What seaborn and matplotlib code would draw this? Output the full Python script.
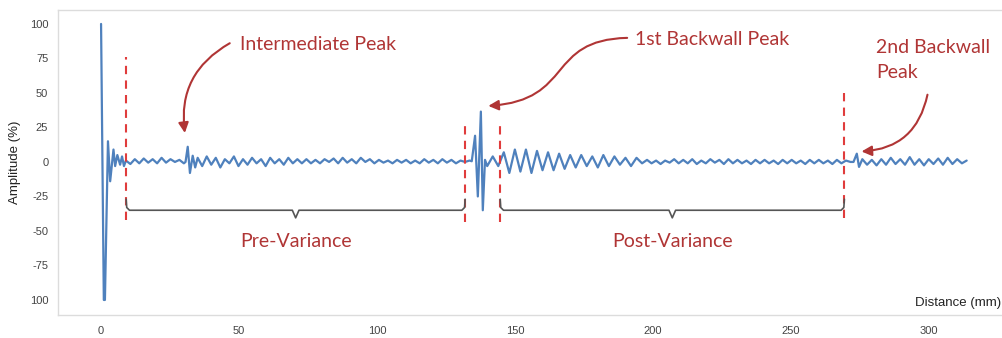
import numpy as np
import pandas as pd
import seaborn as sns
import matplotlib.pyplot as plt
from matplotlib.patches import FancyArrowPatch
from matplotlib.path import Path

# initial pulse (explicit positions)
dist_pulse = [0, 1.0, 1.4, 2.5, 3.3, 4.5, 5.1, 5.9, 6.9, 7.6, 8.3]
amp_pulse = [100, -100, -100, 15, -14, 9, -3, 5, -2, 4, -3]

# noise before intermediate peak (9 -> 30 mm)
amp_noise1 = [1, -1.5, 2, -1, 2.5, -0.5, 2, -1, 3, -0.5, 2, 0, 1.5, -1]

# intermediate peak
dist_mid = [30.6, 31.4, 32.2, 33.2, 34.1]
amp_mid = [0, 11, -8, 4.5, -4]

# noise up to 1st backwall (35 -> 133.5 mm)
amp_noise2 = [3, -3, 4, -2, 3, -4, 2, -1, 4, -3, 2, -2, 3, -1, 2, -3, 3, -1, 2, -2, 3, -1, 2,
              -1, 2, -1, 1.5, -1, 2, 0, 2.5, -1, 3, -0.5, 2, -1, 3, 0, 2, -1, 1.5, -0.5, 1,
              -1, 1.5, -0.5, 1.5, -1, 1, -1, 2, -0.5, 1.5, -1, 2, -0.5, 1.5, -1, 1, 0, 1]

# 1st backwall peak
dist_bw1 = [134.3, 135.5, 136.5, 137.6, 138.3, 139.1]
amp_bw1 = [0.5, 19, -25, 36.5, -35, 1.5]

# ringing after backwall (139.9 -> 196 mm)
amp_ring = [-3, 4, -3, 7, -8, 9, -7, 9, -8, 8, -6, 7, -6, 6, -5, 5, -4, 5, -3, 4,
            -4, 5, -3, 4, -2, 3, -3, 3, -1]

# quiet noise (197.8 -> 271.5 mm)
amp_noise3 = [1.5, -1, 1, -1.5, 1, -0.5, 2, -1, 1.5, -1, 2, -1.5, 1, -1, 2, -0.5, 1.5, -1.5, 2, -1,
              1.5, -1, 1, -1.5, 1.5, -1, 1.5, -1, 1, -1.5, 1.5, -1, 1.5, -1, 1, -1.5, 1.5, -1, 1.5, -1,
              1, -1.5, 1.5, -1, 1, 0]

# 2nd backwall peak
dist_bw2 = [272.6, 273.8, 274.6]
amp_bw2 = [0, 6, -3.6]

# tail noise (275.8 -> 313.6 mm)
amp_noise4 = [2, -2, 1.5, -2.5, 2, -2, 3, -1.5, 2, -2, 3.5, -2, 2, -2.5, 2, -1.5, 2.5, -2, 3, -1.5,
              2, -1, 1]

dist = np.concatenate([
    dist_pulse,
    np.linspace(9.0, 30.0, len(amp_noise1)),
    dist_mid,
    np.linspace(35.0, 133.5, len(amp_noise2)),
    dist_bw1,
    np.linspace(139.9, 196.0, len(amp_ring)),
    np.linspace(197.8, 271.5, len(amp_noise3)),
    dist_bw2,
    np.linspace(275.8, 313.6, len(amp_noise4)),
])
amp = np.concatenate([amp_pulse, amp_noise1, amp_mid, amp_noise2, amp_bw1,
                      amp_ring, amp_noise3, amp_bw2, amp_noise4])
df = pd.DataFrame({'Distance': dist, 'Amplitude': amp})

# gates / regions
gate_x = [9.1, 131.9, 144.6, 269.3]
gate_top = [76, 27, 27, 52]
gate_bottom = [-42, -43.5, -43.5, -40.5]

yticks = [100, 75, 50, 25, 0, -25, -50, -75, -100]
ytick_labels = ['100', '75', '50', '25', '0', '-25', '-50', '-75', '100']
xticks = [0, 50, 100, 150, 200, 250, 300]

sns.set_style('white')
plt.rcParams['font.family'] = ['Liberation Sans', 'DejaVu Sans']

fig = plt.figure(figsize=(10.02, 3.38), dpi=100)
ax = fig.add_axes([58 / 1002, 1 - 315 / 338, (1010 - 58) / 1002, 305 / 338])

sns.lineplot(data=df, x='Distance', y='Amplitude', color='#4f81bd', lw=1.6,
             sort=False, estimator=None, ax=ax)

ax.set_xlim(-15.6, 329.3)
ax.set_ylim(-110.9, 110.1)
ax.set_xticks(xticks)
ax.set_yticks(yticks)
ax.set_yticklabels(ytick_labels)
ax.tick_params(length=0, labelsize=8, labelcolor='#444444')
ax.tick_params(axis='x', pad=8)
ax.tick_params(axis='y', pad=7)
for s in ax.spines.values():
    s.set_color('#dcdcdc')
    s.set_linewidth(1)
ax.set_xlabel('')
ax.set_ylabel('Amplitude (%)', fontsize=9.5, color='#222222')
ax.yaxis.set_label_coords(-0.039, 0.5)
fig.text(0.999, 1 - 303 / 338, 'Distance (mm)', ha='right', va='center',
         fontsize=9.5, color='#222222')

red = '#e03c3c'
dark = '#b03535'
for gx, gt, gb in zip(gate_x, gate_top, gate_bottom):
    ax.plot([gx, gx], [gb, gt], ls=(0, (4, 3)), color=red, lw=1.5)


def brace(x0, x1, y=-35, top=-27, tip=-40.5):
    xm = (x0 + x1) / 2
    xs = [x0, x0 + 0.2, x0 + 1.2, xm - 1.2, xm, xm + 1.2, x1 - 1.2, x1 - 0.2, x1]
    ys = [top, y + 2, y, y, tip, y, y, y + 2, top]
    ax.plot(xs, ys, color='#555555', lw=1.2)


brace(gate_x[0], gate_x[1])
brace(gate_x[2], gate_x[3])

tfont = dict(family=['Lato', 'DejaVu Sans'], fontsize=14, color=dark)
ax.text((gate_x[0] + gate_x[1]) / 2, -58, 'Pre-Variance', ha='center', va='center', **tfont)
ax.text((gate_x[2] + gate_x[3]) / 2, -58, 'Post-Variance', ha='center', va='center', **tfont)
ax.text(50.4, 85, 'Intermediate Peak', ha='left', va='center', **tfont)
ax.text(193.5, 88.5, '1st Backwall Peak', ha='left', va='center', **tfont)
ax.text(280.8, 74, '2nd Backwall\nPeak', ha='left', va='center', linespacing=1.55, **tfont)

astyle = '-|>,head_length=0.5,head_width=0.25'
a1 = FancyArrowPatch((47.5, 87), (30.5, 19), connectionstyle='arc3,rad=0.35',
                     arrowstyle=astyle, mutation_scale=12, color=dark, lw=1.5)
ax.add_patch(a1)
p = Path([(190.6, 89.9), (160.9, 88.4), (171.7, 44.9), (140.3, 40.6)],
         [Path.MOVETO, Path.CURVE4, Path.CURVE4, Path.CURVE4])
a2 = FancyArrowPatch(path=p, arrowstyle=astyle, mutation_scale=12, color=dark, lw=1.5,
                     transform=ax.transData)
ax.add_patch(a2)
a3 = FancyArrowPatch((299.6, 50.7), (274.5, 7.5), connectionstyle='arc3,rad=-0.4',
                     arrowstyle=astyle, mutation_scale=12, color=dark, lw=1.5)
ax.add_patch(a3)

fig.savefig('out.png', dpi=100)
